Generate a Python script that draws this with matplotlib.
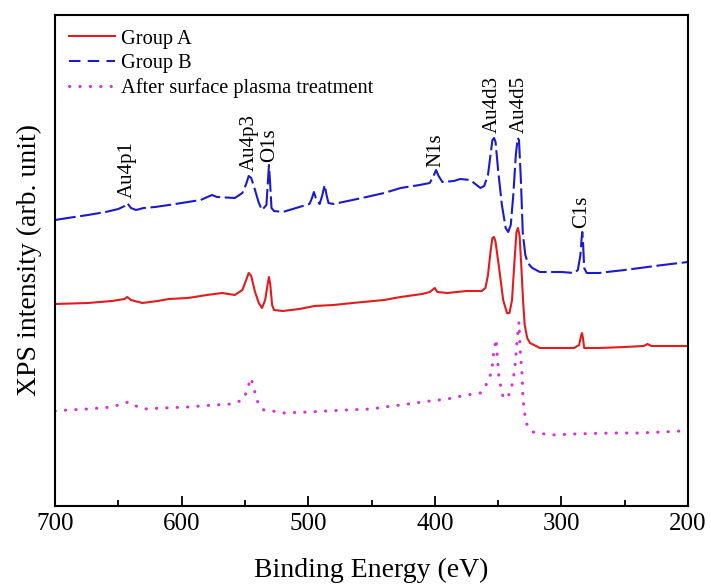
import matplotlib
matplotlib.use("Agg")
import matplotlib.pyplot as plt
from matplotlib.lines import Line2D
from matplotlib.ticker import MultipleLocator

plt.rcParams['font.family'] = ['Liberation Serif', 'DejaVu Serif']

# Group A (red, solid): binding energy (eV) and intensity (arb.)
energy_a = [700, 674, 655, 645, 643, 640, 631, 625, 619, 610, 595, 580, 568, 558,
            552, 549, 547, 545, 542, 539, 536.5, 534, 532, 531, 530, 528.5, 527,
            520, 507, 495, 480, 465, 440, 427, 410, 404, 400, 398, 390, 375, 363,
            360, 358, 356, 354.5, 353.2, 352, 349, 346, 343, 341, 339, 337, 335.5,
            334.3, 333, 331.5, 330.3, 329, 327, 324.8, 317, 300, 290, 286, 284.5,
            283.7, 283, 282, 270, 250, 235, 232, 229, 215, 200]
inten_a = [202, 203, 205, 207, 209, 206, 203, 204, 205, 207, 208, 211, 213, 211,
           216, 226, 233, 230, 214, 203, 198, 206, 222, 229, 222, 201, 196,
           195, 197, 200, 201, 203, 206, 209, 212, 214, 218, 214, 213, 215, 215,
           218, 231, 254, 268, 269, 264, 236, 206, 193, 193, 206, 246, 274,
           278, 270, 236, 206, 181, 168, 163, 158, 158, 158, 161, 170,
           173, 168, 158, 158, 159, 160, 162, 160, 160, 160]

# Group B (blue, dashed)
energy_b = [700, 690, 674, 660, 650, 645, 643, 640, 636, 630, 621, 610, 595, 585,
            576, 572, 558, 552, 549, 547, 545, 542, 539, 536.5, 533, 532, 531, 530,
            529, 527, 520, 507, 499, 497, 495.5, 494, 491, 489, 487, 485.5, 484,
            480, 465, 454, 440, 427, 412, 404, 401, 399, 397, 394, 385, 380, 372,
            364, 361, 358, 356, 354.5, 353.2, 352, 350, 347, 344, 342, 340, 338,
            336, 334.5, 333.5, 332, 330.5, 328.5, 326.5, 323, 317, 300, 290, 287,
            285, 284, 283.5, 283, 282, 280, 270, 264, 250, 238, 220, 200]
inten_b = [286, 288, 291, 294, 297, 300, 303, 298, 296, 298, 299, 301, 304, 306,
           311, 309, 308, 313, 322, 330, 328, 316, 303, 296, 301, 321, 341, 321,
           298, 295, 294, 299, 302, 308, 314, 308, 302, 310, 321, 311, 303,
           302, 306, 309, 313, 318, 321, 323, 330, 336, 330, 324, 325, 327, 326,
           318, 320, 331, 351, 366, 368, 364, 336, 301, 278, 274, 281, 311,
           351, 368, 366, 326, 273, 251, 243, 238, 234, 234, 233, 236,
           251, 268, 274, 266, 238, 233, 233, 234, 236, 238, 241, 244]

# After surface plasma treatment (magenta, dotted)
energy_c = [700, 690, 674, 655, 645, 642, 638, 630, 615, 595, 575, 560, 552, 549,
            547, 545.5, 544, 541, 539, 535, 528, 520, 500, 470, 450, 440, 427, 404,
            390, 375, 364, 358, 354.8, 354, 351.6, 350.5, 349.3, 346.1, 344, 340.5,
            338.2, 336.7, 335.1, 333.5, 332.7, 331.2, 330.3, 328, 322.4, 309, 290,
            260, 240, 220, 205, 200]
inten_c = [95, 96, 97, 99, 103, 104, 101, 97, 98, 99, 101, 102, 106, 113,
           121, 128, 123, 108, 101, 96, 95, 93, 94, 96, 97, 99, 101, 105,
           107, 111, 113, 124, 136, 149, 167, 148, 128, 109, 107, 113,
           126, 139, 164, 184, 159, 133, 106, 83, 74, 71, 72,
           73, 73, 74, 75, 75]

series_labels = ["Group A", "Group B", "After surface plasma treatment"]

peak_names = ["Au4p1", "Au4p3", "O1s", "N1s", "Au4d3", "Au4d5", "C1s"]
peak_energy = [643, 546.8, 530.5, 399, 354.8, 333.5, 283.7]
peak_text_y = [308, 335, 344, 339, 373, 373, 278]

red, blue, magenta = "#e41a1c", "#1a1ad0", "#d92ed9"

fig = plt.figure(figsize=(7.11, 5.87), dpi=100)
ax = fig.add_axes([55 / 711, 81 / 587, 633 / 711, 491 / 587])

ax.plot(energy_a, inten_a, color=red, lw=1.5)
# noisy trace in the original hides most dash gaps on flat parts
ax.plot(energy_b, inten_b, color=blue, lw=1.5, ls=(0, (10, 2.2)))
ax.plot(energy_c, inten_c, color=magenta, lw=2.2, ls=(0, (0.1, 3.3)),
        dash_capstyle="round")

for name, e, yt in zip(peak_names, peak_energy, peak_text_y):
    ax.text(e, yt, name, rotation=90, ha="center", va="bottom", fontsize=15)

ax.set_xlim(700, 200)
ax.set_ylim(0, 491)
ax.set_yticks([])
ax.xaxis.set_major_locator(MultipleLocator(100))
ax.xaxis.set_minor_locator(MultipleLocator(50))
ax.tick_params(axis="x", which="major", direction="in", length=7, width=1.3,
               labelsize=18, pad=5, top=False)
ax.tick_params(axis="x", which="minor", direction="in", length=4.5, width=1.3,
               top=False)
for s in ax.spines.values():
    s.set_linewidth(1.5)

ax.set_xlabel("Binding Energy (eV)", fontsize=20, labelpad=16.5)
ax.set_ylabel("XPS intensity (arb. unit)", fontsize=20, labelpad=9)

handles = [
    Line2D([], [], color=red, lw=1.5),
    Line2D([], [], color=blue, lw=1.5, ls=(0, (5.5, 3.5))),
    Line2D([], [], color=magenta, lw=2.2, ls=(0, (0.1, 3.3)), dash_capstyle="round"),
]
ax.legend(handles, series_labels, loc="upper left", frameon=False, fontsize=14.7,
          handlelength=2.25, handletextpad=0.3, labelspacing=0.25,
          borderaxespad=0.3, borderpad=0.4)

fig.savefig("out.png", dpi=100)
